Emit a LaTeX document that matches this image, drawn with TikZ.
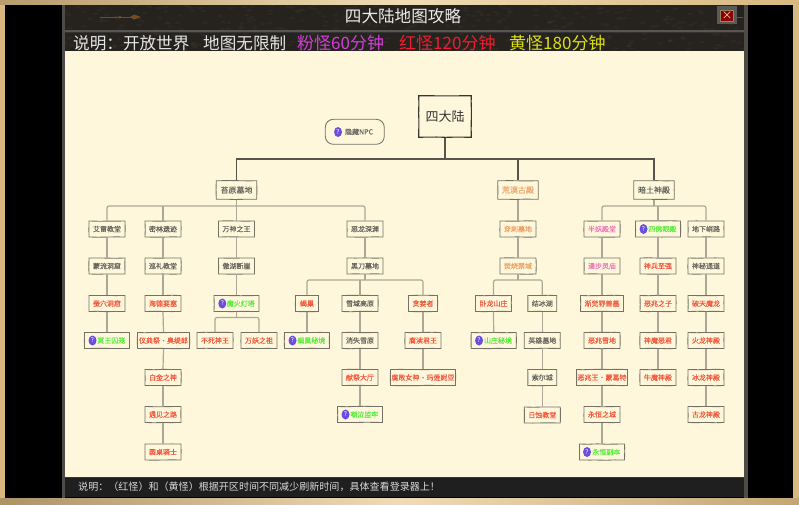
\documentclass[tikz,border=0pt]{standalone}
\usepackage{fontspec}
\setmainfont{Noto Sans CJK SC}
\newfontfamily\nodefont[FakeBold=0.1]{Noto Sans CJK SC}
\usetikzlibrary{shapes.geometric,decorations.pathmorphing,calc}
\definecolor{paper}{HTML}{FEF7DC}
\definecolor{txgray}{HTML}{66665E}
\definecolor{txred}{HTML}{F2583C}
\definecolor{txorange}{HTML}{EFA466}
\definecolor{txpink}{HTML}{F07CBC}
\definecolor{txgreen}{HTML}{58EE3C}
\definecolor{icon}{HTML}{6A4EDC}
\definecolor{gold}{HTML}{D8B880}
\definecolor{goldlt}{HTML}{F0DCB4}
\definecolor{barbg}{HTML}{26231F}
\definecolor{barlt}{HTML}{3A352D}
\definecolor{magtx}{HTML}{D23FD8}
\definecolor{redtx}{HTML}{F01C30}
\definecolor{yeltx}{HTML}{DDE010}
\tikzset{
  box/.style={draw=#1,line width=.85pt,fill=paper,inner sep=0pt,
    decorate,decoration={random steps,segment length=9pt,amplitude=.22pt}},
  box/.default={black!54!paper},
  base/.style={box,minimum height=16pt,minimum width=36pt,font=\nodefont\fontsize{7}{7}\selectfont},
  gr/.style={base,text=txgray},
  rd/.style={base,text=txred},
  og/.style={base,text=txorange},
  pk/.style={base,text=txpink},
  gn/.style={base,text=txgreen,minimum width=45pt},
  big/.style={base,text=txgray,minimum width=40.5pt,minimum height=18.5pt,font=\nodefont\fontsize{8}{9}\selectfont},
  link/.style={draw=black!32!paper,line width=1.2pt,rounded corners=2pt},
  trunk/.style={draw=black!66!paper,line width=1.5pt},
  qm/.style={ellipse,fill=icon,text=white,inner sep=0pt,minimum width=8pt,minimum height=10pt,
    font=\fontsize{6.5}{7}\selectfont},
  head/.style={anchor=west,inner sep=0pt,font=\fontsize{16.6}{17}\selectfont},
  headc/.style={head,font=\fontsize{17}{17}\selectfont},
}
\newcommand{\qt}[1]{\hspace*{8.6pt}#1}
\begin{document}
\begin{tikzpicture}[x=1pt,y=-1pt]
\useasboundingbox (0,0) rectangle (799,504);
% frame
\fill[gold] (0,0) rectangle (799,504);
\shade[left color=gold!85!black,right color=goldlt] (0,0) rectangle (400,4);
\shade[left color=goldlt,right color=gold] (400,0) rectangle (799,4);
\shade[left color=gold!80!black,right color=goldlt] (0,498) rectangle (400,504);
\shade[left color=goldlt,right color=gold!90!black] (400,498) rectangle (799,504);
\fill[black] (5,5) rectangle (793,498);
\fill[barlt!70!gray] (62,5) rectangle (65,498);
\fill[barlt!70!gray] (744,5) rectangle (748,498);
\fill[barbg] (65,5) rectangle (744,51);
\begin{scope}
\clip (65,5) rectangle (744,51);
\pgfmathsetseed{7}
\foreach \i in {1,...,420}{
  \pgfmathsetmacro{\xx}{65+rnd*679}
  \pgfmathsetmacro{\yy}{5+rnd*46}
  \fill[barlt,opacity=.35] (\xx,\yy) ellipse (2.6 and 1.2);
}
\end{scope}
\fill[barlt!55!gray] (65,29.5) rectangle (744,31.5);
\fill[black!80] (65,31.5) rectangle (744,32.5);
\fill[paper] (65,51) rectangle (743.5,476.5);
\fill[black!88] (65,476.5) rectangle (744,497);
\fill[barlt] (65,476.5) rectangle (744,477.5);
% ornament and close button
\draw[brown!60!black,line width=.7pt] (100,17) -- (133,17);
\fill[brown!60!black] (120,17) circle (1.5) (134,14.5) -- (141,17) -- (134,19.5) -- (130,17) -- cycle;
\draw[brown!60!black,line width=.6pt] (737,17) -- (743,17);
\fill[black!65] (717,6) rectangle (737,24);
\node[draw=gold!70!black,fill=red!55!black,minimum width=12.5pt,minimum height=11.5pt,inner sep=0pt,line width=.8pt,text=goldlt,font=\fontsize{11}{10}\selectfont] (close) at (727,16) {×};
% titles
\node[text=white!92!black,inner sep=0pt,font=\fontsize{16.6}{17}\selectfont] (title) at (403,16) {四大陆地图攻略};
\node[head,text=white!90!black] (h1) at (73,43) {说明：开放世界};
\node[head,text=white!90!black] (h2) at (203,43) {地图无限制};
\node[headc,text=magtx] (h3) at (297,43) {粉怪60分钟};
\node[headc,text=redtx] (h4) at (399,43) {红怪120分钟};
\node[headc,text=yeltx] (h5) at (509,43) {黄怪180分钟};
\node[anchor=west,inner sep=0pt,text=white!85!black,font=\fontsize{10.05}{11}\selectfont] (foot) at (78,486.5) {说明：（红怪）和（黄怪）根据开区时间不同减少刷新时间，具体查看登录器上！};
% top
\node[box=black!78!paper,line width=1.1pt,minimum width=52.5pt,minimum height=41.5pt,text=black!80,font=\fontsize{13}{14}\selectfont] (root) at (445,116.5) {四大陆};
\node[draw=black!54!paper,line width=.85pt,rounded corners=8pt,minimum width=59pt,minimum height=25pt,inner sep=0pt,text=txgray,font=\nodefont\fontsize{7}{7}\selectfont] (npc) at (354.8,131.8) {\qt{隐藏NPC}};
\node[qm] (npcq) at (338,132) {?};
\node[big] (a1) at (236.5,190) {苔原墓地};
\node[big,text=txorange] (a2) at (518,190) {荒漠古殿};
\node[big] (a3) at (654,190) {暗土神殿};
% column 1
\node[gr] (b1) at (107,229) {艾雷教堂};
\node[gr] (b2) at (107,266) {蒙流洞窟};
\node[rd] (b3) at (107,303.5) {蚕穴洞窟};
\node[gn] (b4) at (107,340.5) {\qt{冥王囚笼}};
\node[qm] (b4q) at (92.5,340.5) {?};
% column 2
\node[gr] (c1) at (163,229) {密林遗迹};
\node[gr] (c2) at (163,266) {巡礼教堂};
\node[rd] (c3) at (163,303.5) {海德要塞};
\node[rd,minimum width=52pt] (c4) at (163.5,340.5) {仪典祭·奥缇郎};
\node[rd] (c5) at (163,377.5) {白金之神};
\node[rd] (c6) at (163,414.5) {遇见之路};
\node[rd] (c7) at (163,452) {圆桌骑士};
% column 3
\node[gr] (d1) at (236.5,229) {万神之王};
\node[gr] (d2) at (236.5,266) {傲湖断崖};
\node[gn] (d3) at (236.5,303.5) {\qt{魔火灯塔}};
\node[qm] (d3q) at (222.3,303.5) {?};
\node[rd] (d4) at (215,340.5) {不死神王};
\node[rd] (d5) at (259,340.5) {万妖之祖};
% column 4
\node[gr] (e1) at (365,229) {恶龙深渊};
\node[gr] (e2) at (365,266) {黑刀墓地};
\node[rd,minimum width=23pt] (f1) at (307,303.5) {蝎巢};
\node[gn] (f2) at (307,340.5) {\qt{蝎巢秘境}};
\node[qm] (f2q) at (292.5,340.5) {?};
\node[gr] (g1) at (360,303.5) {雪域高原};
\node[gr] (g2) at (360,340.5) {消失雪原};
\node[rd] (g3) at (360,377.5) {献祭大厅};
\node[gn] (g4) at (360,414.5) {\qt{嘲泣监牢}};
\node[qm] (g4q) at (345.5,414.5) {?};
\node[rd,minimum width=29pt] (h6) at (423,303.5) {贪婪者};
\node[rd] (h7) at (423,340.5) {腐渎君王};
\node[rd,minimum width=65pt] (h8) at (423,377.5) {腐败女神·玛莲妮亚};
% column 5
\node[og] (i1) at (518,229) {穿刺墓地};
\node[og] (i2) at (518,266) {焚烧禁域};
\node[rd] (j1) at (493.5,303.5) {卧龙山庄};
\node[gn] (j2) at (493.7,340.5) {\qt{山庄秘境}};
\node[qm] (j2q) at (479,340.5) {?};
\node[gr,minimum width=29pt] (k1) at (542.3,303.5) {结冰湖};
\node[gr] (k2) at (542.3,340.5) {英雄墓地};
\node[gr,minimum width=29pt] (k3) at (542.3,377.5) {索尔城};
\node[rd] (k4) at (542.3,415) {日蚀教堂};
% column 6
\node[pk] (l1) at (602,229) {半妖殿堂};
\node[pk] (l2) at (602,266) {漫步灵庙};
\node[rd,minimum width=43pt] (l3) at (602,303.5) {渐觉野兽墓};
\node[rd] (l4) at (602,340.5) {恶兆雪地};
\node[rd,minimum width=51pt] (l5) at (602,377.5) {恶兆王·蒙葛特};
\node[rd] (l6) at (602,414.5) {永恒之城};
\node[gn] (l7) at (602,452) {\qt{永恒副本}};
\node[qm] (l7q) at (587,452) {?};
% column 7
\node[gn] (m1) at (658,229) {\qt{四佛眼殿}};
\node[qm] (m1q) at (643.5,229) {?};
\node[rd] (m2) at (658,266) {神兵至强};
\node[rd] (m3) at (658,303.5) {恶兆之子};
\node[rd] (m4) at (658,340.5) {神魔恶君};
\node[rd] (m5) at (658,377.5) {牛魔神殿};
% column 8
\node[gr] (n1) at (706,229) {地下峭路};
\node[gr] (n2) at (706,266) {神秘通道};
\node[rd] (n3) at (706,303.5) {破天魔龙};
\node[rd] (n4) at (706,340.5) {火龙神殿};
\node[rd] (n5) at (706,377.5) {冰龙神殿};
\node[rd] (n6) at (706,414.5) {古龙神殿};
% buses
\coordinate (rb) at (445,159);
\coordinate (b1bus) at (236.5,206);
\coordinate (b2bus) at (654,206);
\coordinate (b3bus) at (365,280);
\coordinate (b4bus) at (518,280);
\coordinate (b5bus) at (236.5,317.5);
% trunk lines
\draw[trunk] (root.south) -- (rb);
\draw[trunk] (a1.north) |- (rb) -| (a3.north);
\draw[trunk] (a2.north) -- (a2.north |- rb);
% branches
\draw[link] (b1.north) |- (b1bus) -| (e1.north);
\draw[link] (c1.north) -- (c1.north |- b1bus);
\draw[link] (a1.south) -- (d1.north);
\draw[link] (l1.north) |- (b2bus) -| (n1.north);
\draw[link] (m1.north) -- (m1.north |- b2bus);
\draw[link] (a3.south) -- (b2bus);
\draw[link] (f1.north) |- (b3bus) -| (h6.north);
\draw[link] (g1.north) -- (g1.north |- b3bus);
\draw[link] (e2.south) -- (b3bus);
\draw[link] (j1.north) |- (b4bus) -| (k1.north);
\draw[link] (i2.south) -- (b4bus);
\draw[link] (d4.north) |- (b5bus) -| (d5.north);
\draw[link] (d3.south) -- (b5bus);
\draw[link] (a2.south) -- (i1.north);
% chains
\foreach \p/\q in {b1/b2,b2/b3,b3/b4,c1/c2,c2/c3,c3/c4,c4/c5,c5/c6,c6/c7,d1/d2,d2/d3,e1/e2,f1/f2,g1/g2,g2/g3,g3/g4,h6/h7,h7/h8,i1/i2,j1/j2,k1/k2,k2/k3,k3/k4,l1/l2,l2/l3,l3/l4,l4/l5,l5/l6,l6/l7,m1/m2,m2/m3,m3/m4,m4/m5,n1/n2,n2/n3,n3/n4,n4/n5,n5/n6}
  \draw[link] (\p.south) -- (\q.north);
\end{tikzpicture}
\end{document}
